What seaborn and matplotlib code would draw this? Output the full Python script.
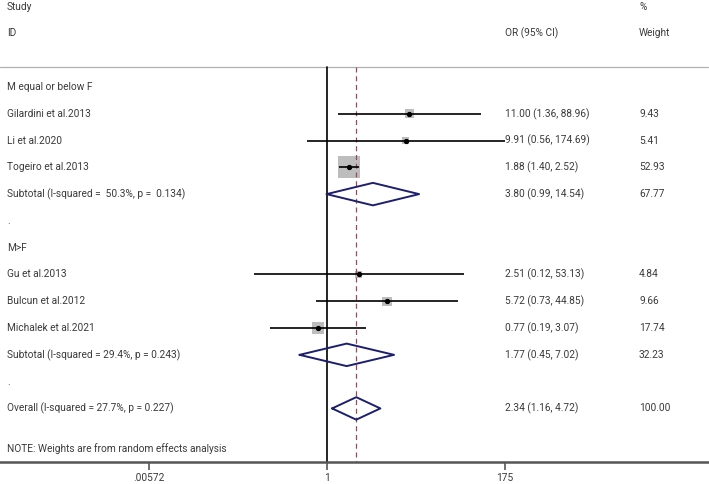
import matplotlib
matplotlib.use("Agg")
import matplotlib.pyplot as plt
import matplotlib.transforms as mtransforms
import seaborn as sns
import numpy as np
import pandas as pd

# study-level data
studies = ["Gilardini et al.2013", "Li et al.2020", "Togeiro et al.2013",
           "Gu et al.2013", "Bulcun et al.2012", "Michalek et al.2021"]
study_or = [11.00, 9.91, 1.88, 2.51, 5.72, 0.77]
study_lo = [1.36, 0.56, 1.40, 0.12, 0.73, 0.19]
study_hi = [88.96, 174.69, 2.52, 53.13, 44.85, 3.07]
study_w = [9.43, 5.41, 52.93, 4.84, 9.66, 17.74]
study_rows = [1, 2, 3, 7, 8, 9]

# pooled estimates
pooled_labels = ["Subtotal (I-squared =  50.3%, p =  0.134)",
                 "Subtotal (I-squared = 29.4%, p = 0.243)",
                 "Overall (I-squared = 27.7%, p = 0.227)"]
pooled_or = [3.80, 1.77, 2.34]
pooled_lo = [0.99, 0.45, 1.16]
pooled_hi = [14.54, 7.02, 4.72]
pooled_w = [67.77, 32.23, 100.00]
pooled_rows = [4, 10, 12]

group_labels = ["M equal or below F", ".", "M>F", "."]
group_rows = [0, 5, 6, 11]

xticks = [0.005714, 1, 175]
xtick_labels = [".00572", "1", "175"]

sns.set_style("white")
plt.rcParams["font.family"] = ["Roboto", "DejaVu Sans"]
txt_color = "#3a3a3a"
fs = 7.3

fig = plt.figure(figsize=(7.09, 4.84), dpi=100)
ax = fig.add_axes([0, 22 / 484, 1, 462 / 484])
ax.set_xscale("log")
x_left = 10 ** (-327 / 79.2)
x_right = 10 ** ((709 - 327) / 79.2)
ax.set_xlim(x_left, x_right)
ax.set_ylim(14.0, -3.246)

for s in ["top", "left", "right"]:
    ax.spines[s].set_visible(False)
ax.spines["bottom"].set_visible(True)
ax.spines["bottom"].set_color("#555555")
ax.spines["bottom"].set_linewidth(1.8)
ax.spines["bottom"].set_zorder(5)
ax.set_yticks([])
ax.set_xticks(xticks)
ax.set_xticklabels(xtick_labels, fontsize=fs, color=txt_color)
ax.minorticks_off()
ax.tick_params(axis="x", bottom=True, direction="out", length=6, width=1.2,
               color="#555555", pad=2)

# header separator
ax.axhline(-0.75, xmin=0, xmax=0.998, color="#b0b0b0", lw=0.9)

# null line and overall effect line
ax.plot([1, 1], [-0.75, 14.0], color="black", lw=1.2)
ax.plot([pooled_or[2]] * 2, [-0.75, 14.0], color="#9b4a55", lw=0.9,
        ls=(0, (4, 3)))

# confidence intervals
ax.hlines(study_rows, study_lo, study_hi, color="black", lw=1.2, zorder=2)

# weight boxes
df = pd.DataFrame({"or": study_or, "row": study_rows, "w": study_w})
sns.scatterplot(data=df, x="or", y="row", size="w",
                sizes=(min(study_w) * 4.8, max(study_w) * 4.8),
                marker="s", color="#bdbdbd", edgecolor="none",
                legend=False, ax=ax, zorder=1)
ax.scatter(study_or, study_rows, marker="o", s=8, color="black", zorder=4)

# pooled diamonds
for o, l, h, r in zip(pooled_or, pooled_lo, pooled_hi, pooled_rows):
    ax.plot([l, o, h, o, l], [r, r - 0.42, r, r + 0.42, r],
            color="#1c1f6e", lw=1.4, zorder=4)

# text columns
tr_left = mtransforms.blended_transform_factory(fig.transFigure, ax.transData)
col_left = 7 / 709
col_or = 505 / 709
col_w = 639 / 709


def put(x, y, s):
    ax.text(x, y, s, transform=tr_left, fontsize=fs, color=txt_color, va="center")


put(col_left, -3.0, "Study")
put(col_left, -2.0, "ID")
put(col_or, -2.0, "OR (95% CI)")
put(col_w, -3.0, "%")
put(col_w, -2.0, "Weight")

for lab, r in zip(group_labels, group_rows):
    put(col_left, r, lab)

for lab, o, l, h, w, r in zip(studies, study_or, study_lo, study_hi, study_w, study_rows):
    put(col_left, r, lab)
    put(col_or, r, f"{o:.2f} ({l:.2f}, {h:.2f})")
    put(col_w, r, f"{w:.2f}")

for lab, o, l, h, w, r in zip(pooled_labels, pooled_or, pooled_lo, pooled_hi, pooled_w, pooled_rows):
    put(col_left, r, lab)
    put(col_or, r, f"{o:.2f} ({l:.2f}, {h:.2f})")
    put(col_w, r, f"{w:.2f}")

put(col_left, 13.5, "NOTE: Weights are from random effects analysis")

ax.set_xlabel("")
ax.set_ylabel("")
fig.savefig("out.png", dpi=100)
